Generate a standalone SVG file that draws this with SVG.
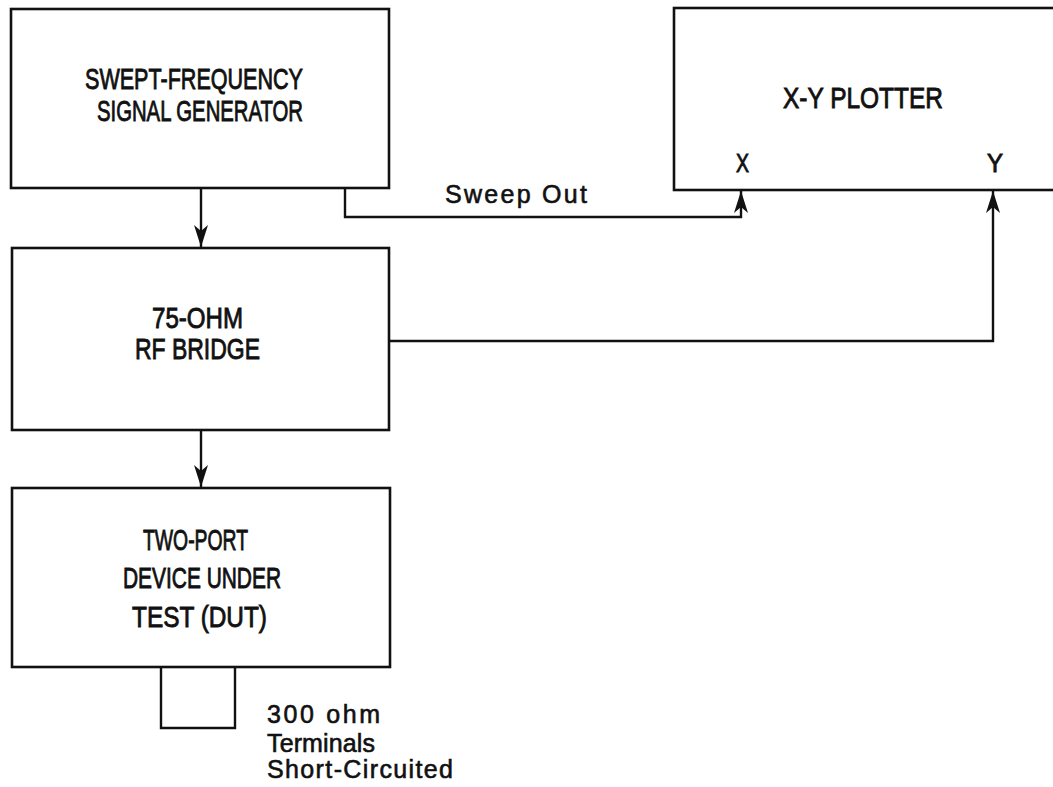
<svg xmlns="http://www.w3.org/2000/svg" width="1053" height="787" viewBox="0 0 1053 787">
<style>
.box{fill:none;stroke:#111;stroke-width:2.6}
.ln{fill:none;stroke:#111;stroke-width:2.4}
.t{font-family:"Liberation Sans",Arial,sans-serif;font-size:30px;fill:#111;stroke:#111;stroke-width:0.9}
.s{font-family:"Liberation Sans",Arial,sans-serif;font-size:25px;fill:#111;stroke:#111;stroke-width:0.6}
</style>
<defs>
<marker id="ah" markerUnits="userSpaceOnUse" markerWidth="22" markerHeight="14" refX="22" refY="7" orient="auto" viewBox="0 0 22 14">
<path d="M0,0 L22,7 L0,14 L6,7 Z" fill="#111"/>
</marker>
</defs>
<rect width="1053" height="787" fill="#fff"/>
<g id="generator">
<rect class="box" x="11" y="9" width="378" height="179"/>
<text class="t" x="85" y="89" textLength="218" lengthAdjust="spacingAndGlyphs">SWEPT-FREQUENCY</text>
<text class="t" x="97" y="121" textLength="206" lengthAdjust="spacingAndGlyphs">SIGNAL GENERATOR</text>
</g>
<g id="bridge">
<rect class="box" x="12" y="248" width="377" height="182"/>
<text class="t" x="152" y="328" textLength="91" lengthAdjust="spacingAndGlyphs">75-OHM</text>
<text class="t" x="135" y="359" textLength="125" lengthAdjust="spacingAndGlyphs">RF BRIDGE</text>
</g>
<g id="dut">
<rect class="box" x="12" y="488" width="378" height="179"/>
<text class="t" x="143" y="550" textLength="105" lengthAdjust="spacingAndGlyphs">TWO-PORT</text>
<text class="t" x="123" y="588" textLength="158" lengthAdjust="spacingAndGlyphs">DEVICE UNDER</text>
<text class="t" x="132" y="627" textLength="135" lengthAdjust="spacingAndGlyphs">TEST (DUT)</text>
</g>
<g id="short">
<path class="ln" d="M161,667 V728 H235 V667"/>
<text class="s" x="267" y="723" textLength="113" lengthAdjust="spacing">300 ohm</text>
<text class="s" x="267" y="752" textLength="108" lengthAdjust="spacing">Terminals</text>
<text class="s" x="267" y="778" textLength="186" lengthAdjust="spacing">Short-Circuited</text>
</g>
<g id="plotter">
<rect class="box" x="674" y="8" width="400" height="182"/>
<text class="t" x="783" y="108" textLength="160" lengthAdjust="spacingAndGlyphs">X-Y PLOTTER</text>
<text class="t" x="736" y="172" style="font-size:26px" textLength="13" lengthAdjust="spacingAndGlyphs">X</text>
<text class="t" x="987" y="172" style="font-size:26px" textLength="16" lengthAdjust="spacingAndGlyphs">Y</text>
</g>
<g id="connectors">
<path class="ln" d="M201,188 V247" marker-end="url(#ah)"/>
<path class="ln" d="M201,430 V487" marker-end="url(#ah)"/>
<path class="ln" d="M345,188 V217 H741 V191" marker-end="url(#ah)"/>
<path class="ln" d="M390,341 H993 V191" marker-end="url(#ah)"/>
<text class="s" x="445" y="203" textLength="142" lengthAdjust="spacing">Sweep Out</text>
</g>
</svg>
